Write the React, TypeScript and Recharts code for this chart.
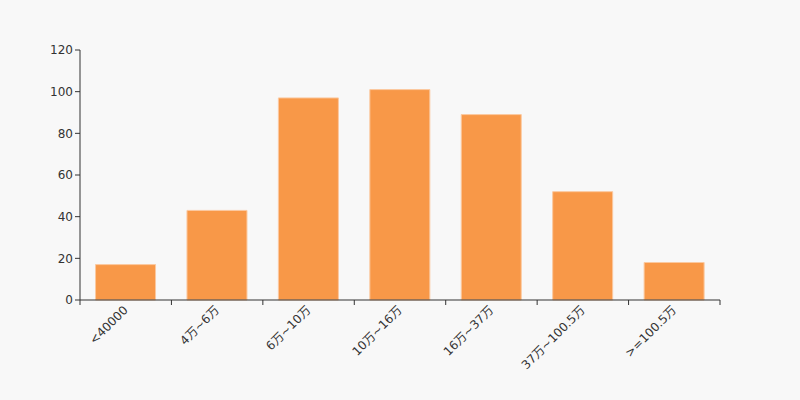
import { Bar, BarChart, XAxis, YAxis } from "recharts";

const categories = ["<40000", "4万~6万", "6万~10万", "10万~16万", "16万~37万", "37万~100.5万", ">=100.5万"];
const counts = [17, 43, 97, 101, 89, 52, 18];
const yTicks = [0, 20, 40, 60, 80, 100, 120];

const data = categories.map((name, i) => ({ name, value: counts[i] }));

const axisColor = "#333333";
const font = "'DejaVu Sans', 'Noto Sans CJK SC', sans-serif";

// label rotated -45°, plus tick marks on the band boundaries (not centres)
function RotatedTick(props: any) {
	const { x, y, payload, index } = props;
	const half = payload.offset ?? 0;
	const isLast = index === categories.length - 1;
	return (
		<g>
			<line x1={x - half} x2={x - half} y1={y} y2={y + 5} stroke={axisColor} />
			{isLast && <line x1={x + half} x2={x + half} y1={y} y2={y + 5} stroke={axisColor} />}
			<g transform={`translate(${x},${y + 8})`}>
				<text
					x={0}
					y={0}
					dy={4}
					textAnchor="end"
					transform="rotate(-45)"
					fill={axisColor}
					fontSize={12}
					fontFamily={font}
				>
					{payload.value}
				</text>
			</g>
		</g>
	);
}

export default function App() {
	return (
		<div style={{ position: "fixed", left: 0, top: 0, width: 800, height: 400, background: "#f8f8f8" }}>
			<BarChart
				width={800}
				height={400}
				data={data}
				margin={{ top: 50, right: 80, bottom: 0, left: 40 }}
				barCategoryGap="17%"
			>
				<XAxis
					dataKey="name"
					interval={0}
					stroke={axisColor}
					tickLine={false}
					tickSize={0}
					tickMargin={0}
					height={100}
					tick={<RotatedTick />}
				/>
				<YAxis
					domain={[0, 120]}
					ticks={yTicks}
					width={40}
					stroke={axisColor}
					tickSize={5}
					tick={{ fill: axisColor, fontSize: 12, fontFamily: font }}
				/>
				<Bar
					dataKey="value"
					fill="#f89848"
					stroke="#fbc9a0"
					strokeWidth={1}
					isAnimationActive={false}
				/>
			</BarChart>
		</div>
	);
}
